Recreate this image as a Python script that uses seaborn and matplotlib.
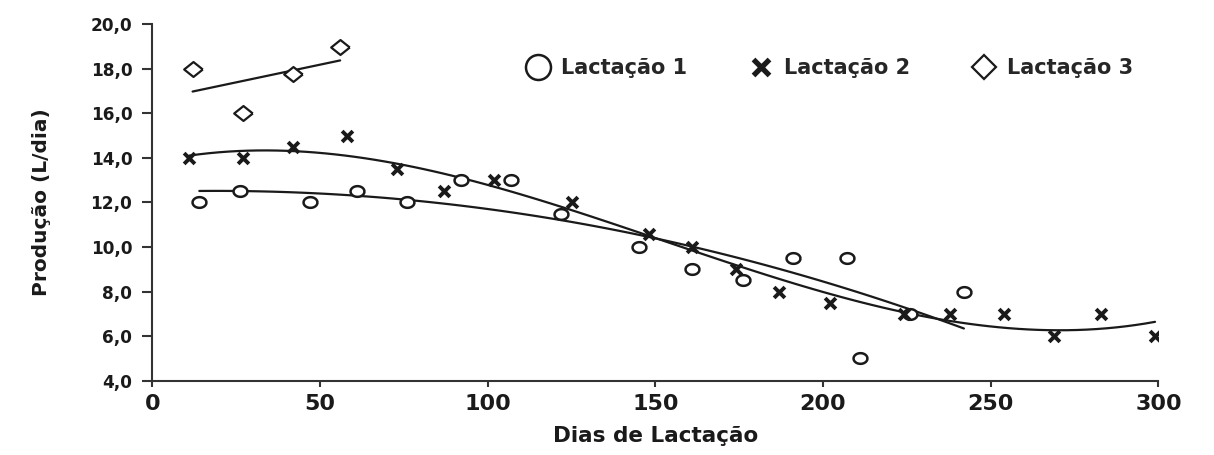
import numpy as np
import pandas as pd
import matplotlib.pyplot as plt
import seaborn as sns
from matplotlib.lines import Line2D
from matplotlib.path import Path
from matplotlib.ticker import FuncFormatter

# Dados: dias de lactação x produção (L/dia)
dias_lact1 = [14, 26, 47, 61, 76, 92, 107, 122, 145, 161, 176, 191, 207, 211, 226, 242]
prod_lact1 = [12.0, 12.5, 12.0, 12.5, 12.0, 13.0, 13.0, 11.5, 10.0, 9.0, 8.5, 9.5, 9.5, 5.0, 7.0, 8.0]

dias_lact2 = [11, 27, 42, 58, 73, 87, 102, 125, 148, 161, 174, 187, 202, 224, 238, 254, 269, 283, 299]
prod_lact2 = [14.0, 14.0, 14.5, 15.0, 13.5, 12.5, 13.0, 12.0, 10.6, 10.0, 9.0, 8.0, 7.5, 7.0, 7.0, 7.0, 6.0, 7.0, 6.0]

dias_lact3 = [12, 27, 42, 56]
prod_lact3 = [18.0, 16.0, 17.75, 19.0]

labels = ["Lactação 1", "Lactação 2", "Lactação 3"]
y_ticks = [4, 6, 8, 10, 12, 14, 16, 18, 20]
x_ticks = [0, 50, 100, 150, 200, 250, 300]

df1 = pd.DataFrame({"dias": dias_lact1, "prod": prod_lact1})
df2 = pd.DataFrame({"dias": dias_lact2, "prod": prod_lact2})
df3 = pd.DataFrame({"dias": dias_lact3, "prod": prod_lact3})

sns.set_style("white")
plt.rcParams["font.family"] = ["DejaVu Sans"]
plt.rcParams["font.weight"] = "bold"

ink = "#1a1a1a"

# marcadores levemente achatados, como no original
t = np.linspace(0, 2 * np.pi, 64)
ellipse = Path(np.column_stack([1.3 * np.cos(t), np.sin(t)]))
diamond = Path([(1.25, 0), (0, 1), (-1.25, 0), (0, -1), (1.25, 0)])

fig = plt.figure(figsize=(12.14, 4.55), dpi=100)
ax = fig.add_axes([0.1255, 0.1633, 0.8287, 0.7833])

# curvas de ajuste (polinomiais)
line_kws = {"color": ink, "linewidth": 1.6}
sns.regplot(data=df1, x="dias", y="prod", order=2, ci=None, scatter=False, line_kws=line_kws, ax=ax)
sns.regplot(data=df2, x="dias", y="prod", order=3, ci=None, scatter=False, line_kws=line_kws, ax=ax)
sns.regplot(data=df3, x="dias", y="prod", order=1, ci=None, scatter=False, line_kws=line_kws, ax=ax)

# pontos
sns.scatterplot(data=df1, x="dias", y="prod", marker=ellipse, s=100, facecolor="white",
                edgecolor=ink, linewidth=1.8, ax=ax, zorder=3)
sns.scatterplot(data=df2, x="dias", y="prod", marker="x", s=60, color=ink,
                linewidth=2.8, ax=ax, zorder=3)
sns.scatterplot(data=df3, x="dias", y="prod", marker=diamond, s=180, facecolor="white",
                edgecolor=ink, linewidth=1.6, ax=ax, zorder=3)

ax.set_xlim(0, 300)
ax.set_ylim(4, 20)
ax.set_xticks(x_ticks)
ax.set_yticks(y_ticks)
ax.yaxis.set_major_formatter(FuncFormatter(lambda v, p: f"{v:.1f}".replace(".", ",")))

sns.despine(ax=ax)
for side in ["left", "bottom"]:
    ax.spines[side].set_color("#333333")
    ax.spines[side].set_linewidth(1.5)
ax.tick_params(axis="y", left=True, direction="out", length=7, width=1.5, color="#333333",
               labelsize=12.2, pad=7.5, labelcolor=ink)
ax.tick_params(axis="x", bottom=True, direction="out", length=4.5, width=1.5, color="#333333",
               labelsize=16, pad=5, labelcolor=ink)

ax.set_xlabel("Dias de Lactação", fontsize=15.5, fontweight="bold", color=ink)
ax.set_ylabel("Produção (L/dia)", fontsize=14.5, fontweight="bold", color=ink)
ax.xaxis.set_label_coords(0.5, -0.127)
ax.yaxis.set_label_coords(-0.1007, 0.5)

handles = [
    Line2D([], [], linestyle="none", marker="o", markersize=18, markerfacecolor="white",
           markeredgecolor=ink, markeredgewidth=1.8),
    Line2D([], [], linestyle="none", marker="x", markersize=11, color=ink, markeredgewidth=3.8),
    Line2D([], [], linestyle="none", marker="D", markersize=12, markerfacecolor="white",
           markeredgecolor=ink, markeredgewidth=1.6),
]
fig.legend(handles, labels, loc="center left", bbox_to_anchor=(0.4337, 0.8505), ncol=3,
           frameon=False, fontsize=15, handlelength=1.1, handletextpad=0.55,
           columnspacing=3.0, borderpad=0, borderaxespad=0)

fig.savefig("out.png", dpi=100)
